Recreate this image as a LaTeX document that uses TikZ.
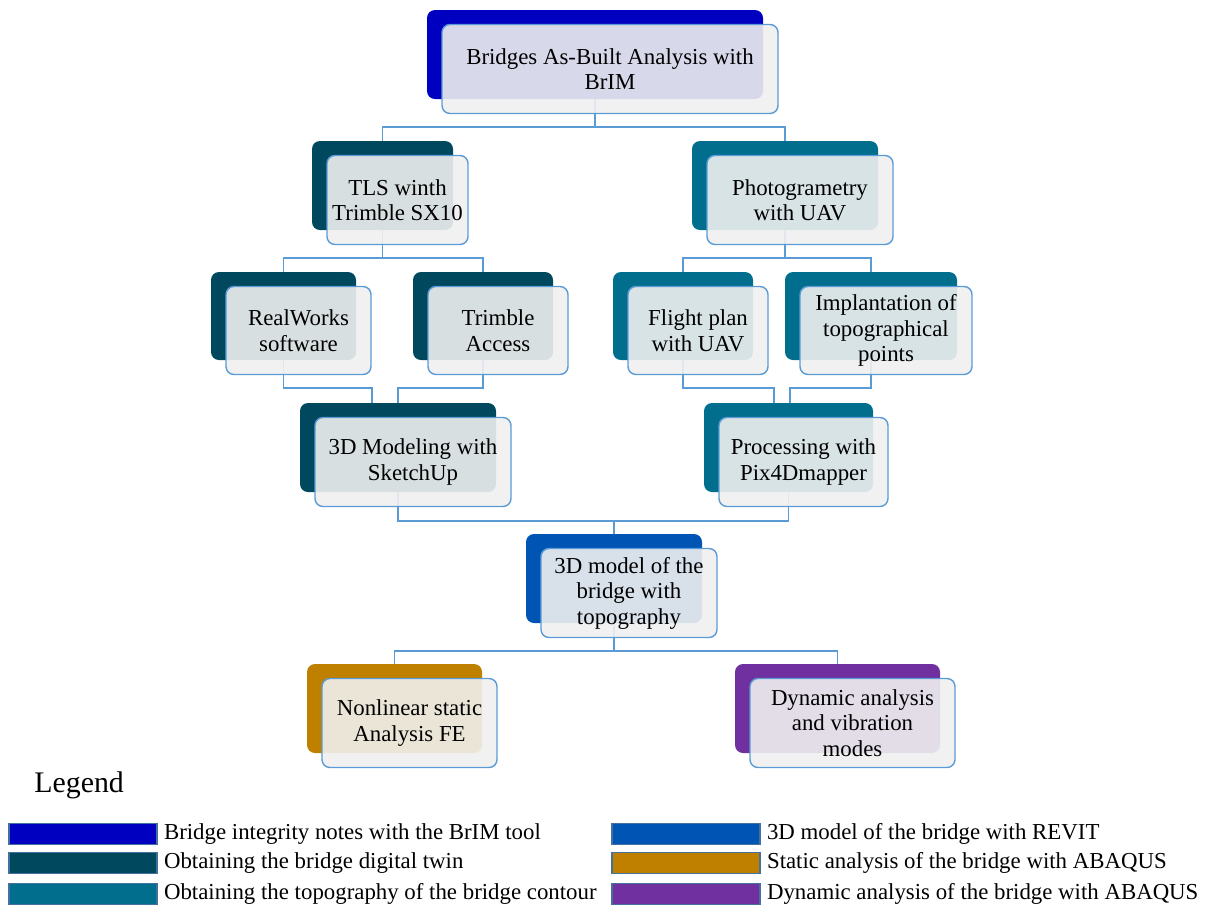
\documentclass[tikz,border=0pt]{standalone}
\usepackage{fontspec}
\setmainfont{Liberation Serif}
\usetikzlibrary{backgrounds,calc}
\definecolor{cBrim}{RGB}{0,0,192}
\definecolor{cTwin}{RGB}{0,72,94}
\definecolor{cTopo}{RGB}{0,110,140}
\definecolor{cRevit}{RGB}{0,85,180}
\definecolor{cStatic}{RGB}{191,128,0}
\definecolor{cDyn}{RGB}{112,48,160}
\definecolor{cLine}{RGB}{91,155,213}
\definecolor{cFront}{RGB}{240,240,240}
\definecolor{cSwBorder}{RGB}{65,113,156}
\newcommand\pairbox[7]{%
  \node[backbox, fill=#6, minimum width={(#4-#2)*0.02cm}, minimum height={(#5-#3)*0.02cm}]
    (#1b) at ({(#2+#4)/2},{(#3+#5)/2}) {};
  \node[frontbox, minimum width={(#4-#2)*0.02cm}, minimum height={(#5-#3)*0.02cm}]
    (#1) at ({(#2+#4)/2+15},{(#3+#5)/2+14.5}) {#7};
}
\tikzset{
  backbox/.style={rectangle, rounded corners=0.16cm, inner sep=0pt, draw=none},
  frontbox/.style={rectangle, rounded corners=0.16cm, inner sep=0pt, fill=cFront,
    fill opacity=0.9, text opacity=1, draw=cLine, line width=0.8pt, align=center,
    font=\fontsize{13}{14.5}\selectfont},
  conn/.style={draw=cLine, line width=0.8pt},
  swatch/.style={rectangle, inner sep=0pt, draw=cSwBorder, line width=0.8pt,
    minimum width=2.96cm, minimum height=0.42cm},
  legtext/.style={anchor=west, inner sep=0pt, font=\fontsize{13}{14.5}\selectfont},
}
\begin{document}
\begin{tikzpicture}[x=0.02cm, y=-0.02cm]
\useasboundingbox (0,0) rectangle (1226,907);
% boxes
\pairbox{top}{427}{10}{763}{99}{cBrim}{Bridges As-Built Analysis with\\BrIM}
\pairbox{tls}{312}{141}{453}{230}{cTwin}{TLS winth\\Trimble SX10}
\pairbox{pho}{692}{141}{878}{230}{cTopo}{Photogrametry\\with UAV}
\pairbox{rw}{211}{272}{356}{360}{cTwin}{RealWorks\\software}
\pairbox{ta}{413}{272}{553}{360}{cTwin}{Trimble\\Access}
\pairbox{fp}{613}{272}{753}{360}{cTopo}{Flight plan\\with UAV}
\pairbox{imp}{785}{272}{957}{360}{cTopo}{Implantation of\\topographical\\points}
\pairbox{mod}{300}{403}{496}{492}{cTwin}{3D Modeling with\\SketchUp}
\pairbox{proc}{704}{403}{873}{492}{cTopo}{Processing with\\Pix4Dmapper}
\pairbox{m3d}{526}{534}{702}{623}{cRevit}{3D model of the\\bridge with\\topography}
\pairbox{nl}{307}{664}{482}{753}{cStatic}{Nonlinear static\\Analysis FE}
\pairbox{dyn}{735}{664}{940}{753}{cDyn}{Dynamic analysis\\and vibration\\modes}
% connectors
\coordinate (bus1) at (0,127);
\coordinate (bus2) at (0,258);
\coordinate (bus3) at (0,388);
\coordinate (bus4) at (0,521);
\coordinate (bus5) at (0,651);
\begin{scope}[on background layer]
\draw[conn] (topb.south) -- (topb.south |- bus1) -| (tlsb.north);
\draw[conn] (topb.south |- bus1) -| (phob.north);
\draw[conn] (tlsb.south) -- (tlsb.south |- bus2) -| (rwb.north);
\draw[conn] (tlsb.south |- bus2) -| (tab.north);
\draw[conn] (phob.south) -- (phob.south |- bus2) -| (fpb.north);
\draw[conn] (phob.south |- bus2) -| (impb.north);
\draw[conn] (rwb.south) -- (rwb.south |- bus3) -| ($(modb.north)+(-26,0)$);
\draw[conn] (tab.south) -- (tab.south |- bus3) -| (modb.north);
\draw[conn] (fpb.south) -- (fpb.south |- bus3) -| ($(procb.north)+(-14.5,0)$);
\draw[conn] (impb.south) -- (impb.south |- bus3) -| ($(procb.north)+(1.5,0)$);
\draw[conn] (modb.south) -- (modb.south |- bus4) -| (m3db.north);
\draw[conn] (procb.south) -- (procb.south |- bus4) -| (m3db.north);
\draw[conn] (m3db.south) -- (m3db.south |- bus5) -| (nlb.north);
\draw[conn] (m3db.south |- bus5) -| (dynb.north);
\end{scope}
% legend
\node[anchor=west, inner sep=0pt, font=\fontsize{17}{20}\selectfont] (leg) at (34,785) {Legend};
\node[swatch, fill=cBrim] (s1) at (83,834) {};
\node[swatch, fill=cTwin] (s2) at (83,863) {};
\node[swatch, fill=cTopo] (s3) at (83,894) {};
\node[legtext] (t1) at ($(s1.east)+(6,0)$) {Bridge integrity notes with the BrIM tool};
\node[legtext] (t2) at ($(s2.east)+(6,0)$) {Obtaining the bridge digital twin};
\node[legtext] (t3) at ($(s3.east)+(6,0)$) {Obtaining the topography of the bridge contour};
\node[swatch, fill=cRevit] (s4) at (686,834) {};
\node[swatch, fill=cStatic] (s5) at (686,863) {};
\node[swatch, fill=cDyn] (s6) at (686,894) {};
\node[legtext] (t4) at ($(s4.east)+(6,0)$) {3D model of the bridge with REVIT};
\node[legtext] (t5) at ($(s5.east)+(6,0)$) {Static analysis of the bridge with ABAQUS};
\node[legtext] (t6) at ($(s6.east)+(6,0)$) {Dynamic analysis of the bridge with ABAQUS};
\end{tikzpicture}
\end{document}
